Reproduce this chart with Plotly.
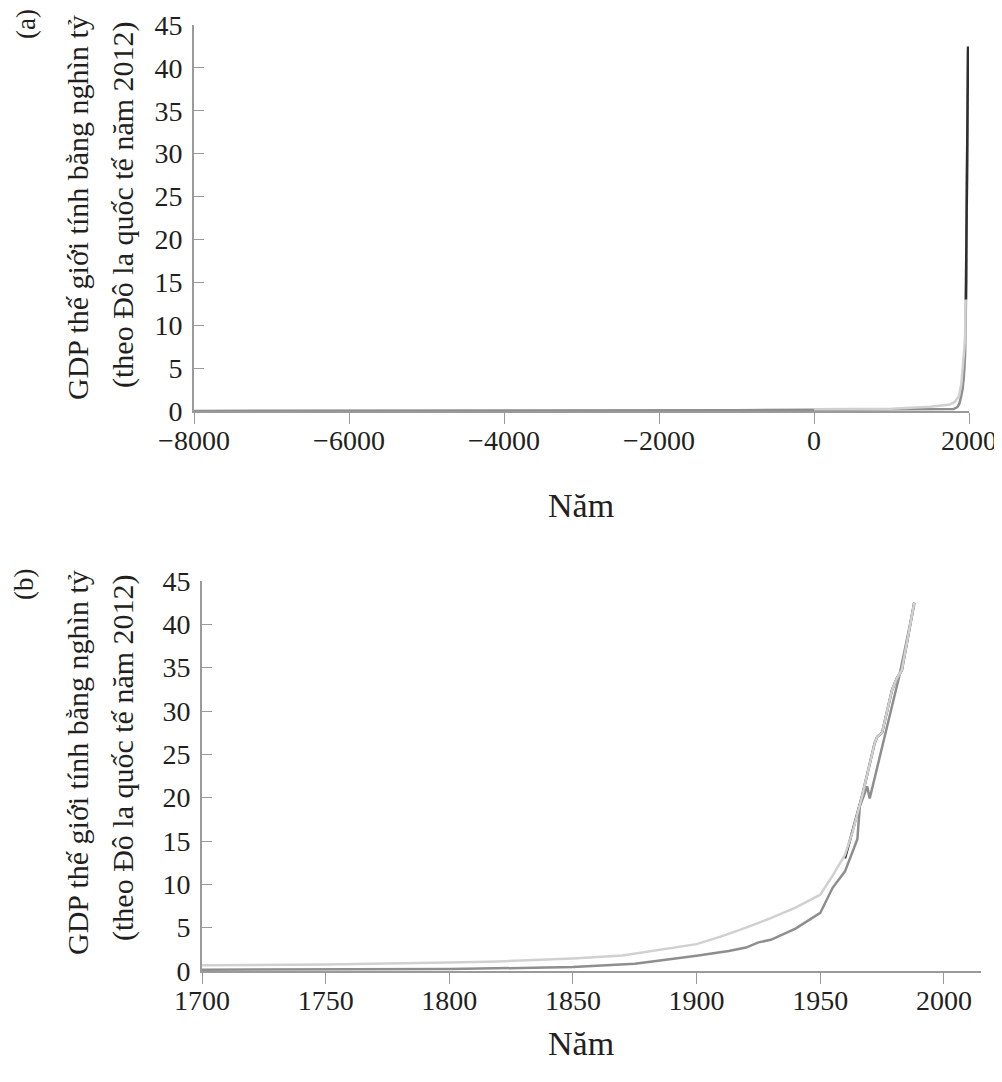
import plotly.graph_objects as go

# page body has an 8px default margin, so the figure is offset to compensate
OFF = 8
W, H = 1002 - OFF, 1082 - OFF

# ---- data (trillions of 2012 international dollars) ----
light_years = [0, 1000, 1500, 1600, 1700, 1750, 1800, 1820, 1850, 1870, 1900, 1910, 1920, 1930, 1940,
               1950, 1955, 1960, 1963, 1967, 1972, 1973, 1975, 1979, 1981, 1983, 1988]
light_vals = [0.2, 0.25, 0.5, 0.6, 0.65, 0.75, 0.98, 1.1, 1.45, 1.78, 3.1, 4.0, 5.0, 6.1, 7.3,
              8.8, 11.0, 13.4, 16.0, 20.3, 26.3, 27.0, 27.5, 32.4, 33.8, 34.7, 42.5]

medium_years = [-8000, -5000, -3000, -2000, -1000, 0, 1000, 1500, 1700, 1750, 1800, 1850, 1875, 1900,
                1913, 1920, 1925, 1930, 1940, 1950, 1955, 1960, 1963, 1965, 1966, 1969, 1970, 1982, 1988]
medium_vals = [0.01, 0.02, 0.04, 0.06, 0.1, 0.15, 0.15, 0.15, 0.15, 0.18, 0.22, 0.45, 0.85, 1.75,
               2.3, 2.7, 3.3, 3.6, 4.9, 6.7, 9.6, 11.5, 13.8, 15.2, 19.0, 21.3, 19.9, 34.1, 42.3]

dark_years = [1960, 1965, 1967, 1972, 1973, 1975, 1979, 1981, 1983, 1988]
dark_vals = [13.0, 18.3, 20.3, 26.3, 27.0, 27.5, 32.4, 33.8, 34.7, 42.5]

xa_tickvals = [-8000, -6000, -4000, -2000, 0, 2000]
xa_ticktext = ["\u22128000", "\u22126000", "\u22124000", "\u22122000", "0", "2000"]
xb_tickvals = [1700, 1750, 1800, 1850, 1900, 1950, 2000]
xb_ticktext = ["1700", "1750", "1800", "1850", "1900", "1950", "2000"]
y_tickvals = [0, 5, 10, 15, 20, 25, 30, 35, 40, 45]
y_ticktext = [str(v) for v in y_tickvals]

ytitle1 = "GDP thế giới tính bằng nghìn tỷ"
ytitle2 = "(theo Đô la quốc tế năm 2012)"
xtitle = "Năm"

LIGHT = "#d0d0d0"
MEDIUM = "#8e8e8e"
DARK = "#2e2e2e"
AXIS = "#9a9a9a"
TEXT = "#231f20"
FONT = "Liberation Serif"

fig = go.Figure()

# panel (a)
fig.add_trace(go.Scatter(x=medium_years, y=medium_vals, mode="lines",
                         line=dict(color=MEDIUM, width=2.5), xaxis="x", yaxis="y", showlegend=False))
fig.add_trace(go.Scatter(x=light_years, y=light_vals, mode="lines",
                         line=dict(color=LIGHT, width=2.5), xaxis="x", yaxis="y", showlegend=False))
fig.add_trace(go.Scatter(x=dark_years, y=dark_vals, mode="lines",
                         line=dict(color=DARK, width=2.5), xaxis="x", yaxis="y", showlegend=False))

# panel (b)
fig.add_trace(go.Scatter(x=dark_years, y=dark_vals, mode="lines",
                         line=dict(color=DARK, width=2.5), xaxis="x2", yaxis="y2", showlegend=False))
fig.add_trace(go.Scatter(x=medium_years, y=medium_vals, mode="lines",
                         line=dict(color=MEDIUM, width=2.5), xaxis="x2", yaxis="y2", showlegend=False))
fig.add_trace(go.Scatter(x=light_years, y=light_vals, mode="lines",
                         line=dict(color=LIGHT, width=2.5), xaxis="x2", yaxis="y2", showlegend=False))


def px_x(p):
    return (p - OFF) / W


def px_y(p):
    return 1 - (p - OFF) / H


xcommon = dict(showline=True, linecolor=AXIS, linewidth=1.6, ticks="outside", ticklen=11,
               tickwidth=1.4, tickcolor=AXIS, showgrid=False, zeroline=False, automargin=False,
               ticklabeloverflow="allow", ticklabelstandoff=-7,
               tickfont=dict(family=FONT, size=28, color=TEXT))
ycommon = dict(showline=True, linecolor=AXIS, linewidth=1.6, ticks="inside", ticklen=10,
               tickwidth=1.4, tickcolor=AXIS, showgrid=False, zeroline=False, range=[0, 45],
               tickvals=y_tickvals, ticktext=y_ticktext, ticklabelstandoff=4, automargin=False,
               ticklabeloverflow="allow",
               tickfont=dict(family=FONT, size=28, color=TEXT))

fig.update_layout(
    width=W, height=H, autosize=False,
    margin=dict(l=0, r=0, t=0, b=0, pad=0),
    paper_bgcolor="white", plot_bgcolor="white",
    xaxis=dict(domain=[px_x(194), px_x(969)], range=[-8000, 2000], anchor="y",
               tickvals=xa_tickvals, ticktext=xa_ticktext, **xcommon),
    yaxis=dict(domain=[px_y(411), px_y(25)], anchor="x", **ycommon),
    xaxis2=dict(domain=[px_x(202), px_x(981)], range=[1700, 2015], anchor="y2",
                tickvals=xb_tickvals, ticktext=xb_ticktext, **xcommon),
    yaxis2=dict(domain=[px_y(971), px_y(581)], anchor="x2", **ycommon),
)

ann = []


def add_text(text, x, y, size, angle=0):
    ann.append(dict(text=text, x=px_x(x), y=px_y(y), xref="paper", yref="paper",
                    showarrow=False, textangle=angle, xanchor="center", yanchor="middle",
                    font=dict(family=FONT, size=size, color=TEXT)))


# panel (a) labels
add_text("(a)", 26, 24, 27, -90)
add_text(ytitle1, 77, 208, 30, -90)
add_text(ytitle2, 123, 205, 30, -90)
add_text(xtitle, 581, 505, 34)
# panel (b) labels
add_text("(b)", 24, 585, 27, -90)
add_text(ytitle1, 77, 763, 30, -90)
add_text(ytitle2, 123, 758, 30, -90)
add_text(xtitle, 581, 1043, 34)

fig.update_layout(annotations=ann)

fig.write_html("out.html")
